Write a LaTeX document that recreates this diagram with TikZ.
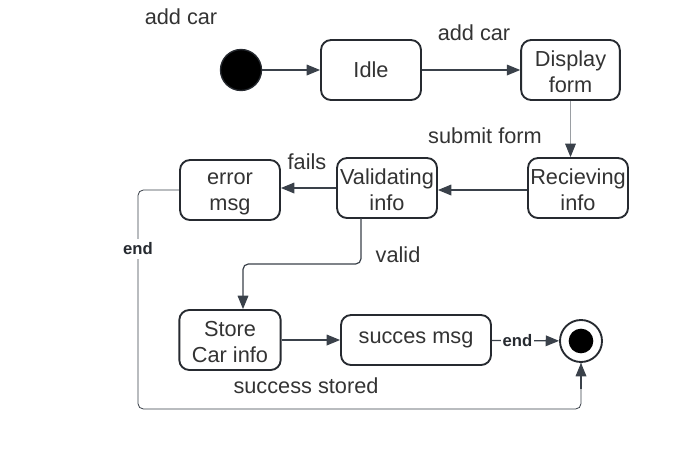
\documentclass[tikz,border=0pt]{standalone}
\usepackage{fontspec}
\setmainfont{Liberation Sans}
\usetikzlibrary{arrows.meta}
\definecolor{lc}{HTML}{3A414A}
\definecolor{bc}{HTML}{262A30}
\definecolor{tc}{HTML}{333333}
\definecolor{lg}{HTML}{9A9EA3}
\begin{document}
\begin{tikzpicture}[x=0.75pt,y=-0.75pt,
  state/.style={draw=bc,line width=1.4pt,rounded corners=7.5pt,fill=white,
    minimum width=75pt,minimum height=45pt,inner sep=0pt,align=center,
    text=tc,font=\fontsize{16.3}{19.5}\selectfont},
  lbl/.style={text=tc,font=\fontsize{16.3}{19.5}\selectfont,inner sep=0pt},
  elbl/.style={text=bc,font=\fontsize{12.5}{14}\selectfont\bfseries,inner sep=0pt},
  conn/.style={draw=lc,line width=0.9pt,-{Triangle[length=10pt,width=8pt]}},
  gconn/.style={draw=lg,line width=0.6pt,-{Triangle[length=10pt,width=8pt,fill=lc,color=lc]}}]
\useasboundingbox (0,0) rectangle (682,451);
% nodes
\node[circle,fill=black,draw=bc,line width=1pt,minimum size=30.75pt,inner sep=0pt] (init) at (241,70) {};
\node[state] (idle) at (371,70) {Idle};
\node[state,minimum width=74pt] (disp) at (570.5,70) {\rule{0pt}{14pt}Display\\form};
\node[state] (recv) at (578,188) {\rule{0pt}{14pt}Recieving\\info};
\node[state] (valid) at (387,188) {\rule{0pt}{14pt}Validating\\info};
\node[state] (err) at (230,190) {\rule{0pt}{14pt}error\\msg};
\node[state,minimum width=76pt] (store) at (230,340) {\rule{0pt}{14pt}Store\\Car info};
\node[state,minimum width=112.5pt,minimum height=37.5pt] (succ) at (416,340) {succes msg};
\node[circle,draw=bc,line width=1.4pt,fill=white,minimum size=31.5pt,inner sep=0pt] (fin) at (581,341) {};
\node[circle,fill=black,minimum size=18.5pt,inner sep=0pt] (finin) at (581,341) {};
% labels
\node[lbl] (l1) at (181,17) {add car};
\node[lbl] (l2) at (474,33) {add car};
\node[lbl] (l3) at (485,136) {submit form};
\node[lbl] (l4) at (307,162) {fails};
\node[lbl] (l5) at (398,255) {valid};
\node[lbl] (l6) at (306,386) {success stored};
\coordinate (ca) at (138,190);
\coordinate (cb) at (138,409);
\coordinate (cc) at (581,409);
\coordinate (va) at (361,264);
\coordinate (vb) at (243,264);
% connectors
\draw[conn] (init) -- (idle);
\draw[conn] (idle) -- (disp);
\draw[gconn] (disp.south) -- (disp.south |- recv.north);
\draw[conn] (recv.west |- 0,190) -- (valid.east |- 0,190);
\draw[conn] (valid.west |- 0,188) -- (err.east |- 0,188);
\draw[conn,rounded corners=4pt] (361,218) -- (va) -- (vb) -- (store.north -| vb);
\draw[conn] (store) -- (succ);
\draw[conn] (succ) -- node[elbl,fill=white,inner xsep=1pt,pos=0.38] (e2) {end} (fin);
\draw[draw=lc,line width=0.6pt,rounded corners=4pt] (err.west |- ca) -- (ca) -- (cb) -- (cc) -- (fin.south) ;
\draw[conn] (cc) ++(0,-20) -- (fin.south);
\node[elbl,fill=white,inner ysep=3pt] (e1) at (138,249) {end};
\end{tikzpicture}
\end{document}
